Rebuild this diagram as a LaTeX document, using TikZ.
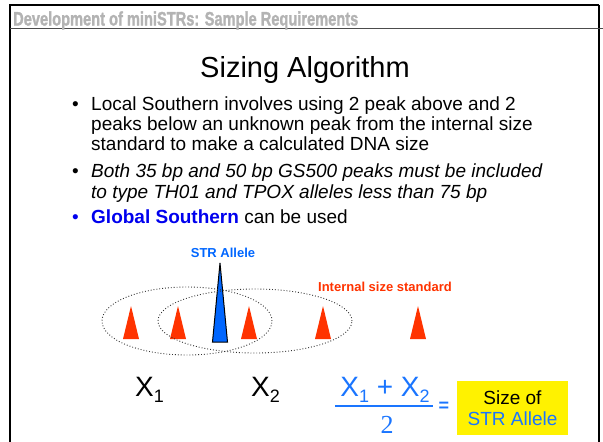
\documentclass[tikz,border=0pt]{standalone}
\usepackage{fontspec}
\setmainfont{Liberation Sans}
\newfontfamily\serifdigit{Liberation Serif}
\newfontfamily\headfont[BoldFeatures={FakeBold=1.6}]{Liberation Sans}
\usetikzlibrary{positioning}
\definecolor{peakred}{HTML}{FF3300}
\definecolor{alleleblue}{HTML}{0066FF}
\definecolor{formblue}{HTML}{1A75FF}
\definecolor{globalblue}{HTML}{0000EE}
\definecolor{headgray}{HTML}{B3B3B3}
\newcommand{\fsz}[1]{\fontsize{#1}{#1}\selectfont}
\tikzset{
  bodyline/.style={anchor=base west,inner sep=0pt,font=\fsz{19}},
  bulletmark/.style={anchor=base west,inner sep=0pt,font=\fsz{19}},
  peaktri/.style={fill=peakred},
  windowring/.style={dotted,line width=0.9pt,black!80}
}

\begin{document}
\begin{tikzpicture}[x=1pt,y=-1pt]
\useasboundingbox (0,0) rectangle (603,442);
% slide frame
\draw[line width=1.5pt] (10,442) -- (10,5) -- (599,5);
\draw[line width=2.5pt] (599,5) -- (599,442);
\draw[line width=0.8pt,black!70] (10,28) -- (603,28);
\node[anchor=base west,inner sep=0pt,text=headgray,font=\headfont\bfseries\fsz{19.5}] (head) at (13,25.5) {\scalebox{0.75}[1]{Development of miniSTRs: Sample Requirements}};
\node[anchor=base,inner sep=0pt,font=\fsz{29}] (title) at (305,77) {Sizing Algorithm};

% bullet points
\node[bulletmark] (b1) at (72,110) {\textbullet};
\node[bodyline] (l1) at (91,110) {Local Southern involves using 2 peak above and 2};
\node[bodyline] (l2) at (91,130) {peaks below an unknown peak from the internal size};
\node[bodyline] (l3) at (91,150) {standard to make a calculated DNA size};
\node[bulletmark] (b2) at (72,177) {\textbullet};
\node[bodyline,font=\itshape\fsz{19}] (l4) at (91,177) {Both 35 bp and 50 bp GS500 peaks must be included};
\node[bodyline,font=\itshape\fsz{19}] (l5) at (91,198) {to type TH01 and TPOX alleles less than 75 bp};
\node[bulletmark,text=globalblue] (b3) at (72,223) {\textbullet};
\node[bodyline] (l6) at (91,223) {\textcolor{globalblue}{\bfseries Global Southern} can be used};

% peaks
\foreach \px in {131,178,249,323,418}
  \fill[peaktri] (\px-8,339) -- (\px,306) -- (\px+8,339) -- cycle;
\filldraw[fill=alleleblue,draw=black,line width=1pt] (212.5,342) -- (220,263) -- (227.5,342) -- cycle;
\draw[windowring] (187,321) ellipse [x radius=85pt,y radius=34pt];
\draw[windowring] (255,321) ellipse [x radius=97pt,y radius=32pt];
\node[font=\bfseries\fsz{13},text=alleleblue,inner sep=0pt] (allele) at (223,253) {STR Allele};
\node[font=\bfseries\fsz{13},text=peakred,inner sep=0pt] (iss) at (385,287) {Internal size standard};

% sizes
\node[anchor=base west,inner sep=0pt,font=\fsz{28}] (x1) at (135,396) {X\raisebox{-6pt}{\fsz{18}1}};
\node[anchor=base west,inner sep=0pt,font=\fsz{28}] (x2) at (251,396) {X\raisebox{-6pt}{\fsz{18}2}};
\node[anchor=base,inner sep=0pt,font=\fsz{28},text=formblue] (numer) at (385,396) {X\raisebox{-6pt}{\fsz{18}1} + X\raisebox{-6pt}{\fsz{18}2}};
\draw[formblue,line width=2.5pt] (335,406) -- (433,406);
\node[anchor=base,inner sep=0pt,font=\serifdigit\fsz{26},text=formblue] (denom) at (387,433) {2};
\node[inner sep=0pt,font=\bfseries\fsz{18},text=formblue] (eq) at (444,407) {=};
\node[fill=yellow,minimum width=111pt,minimum height=54pt,inner sep=0pt,align=center,font=\fsz{19}] (result) at (512.5,408) {Size of\\[2pt] \textcolor{formblue}{STR Allele}};
\end{tikzpicture}
\end{document}
